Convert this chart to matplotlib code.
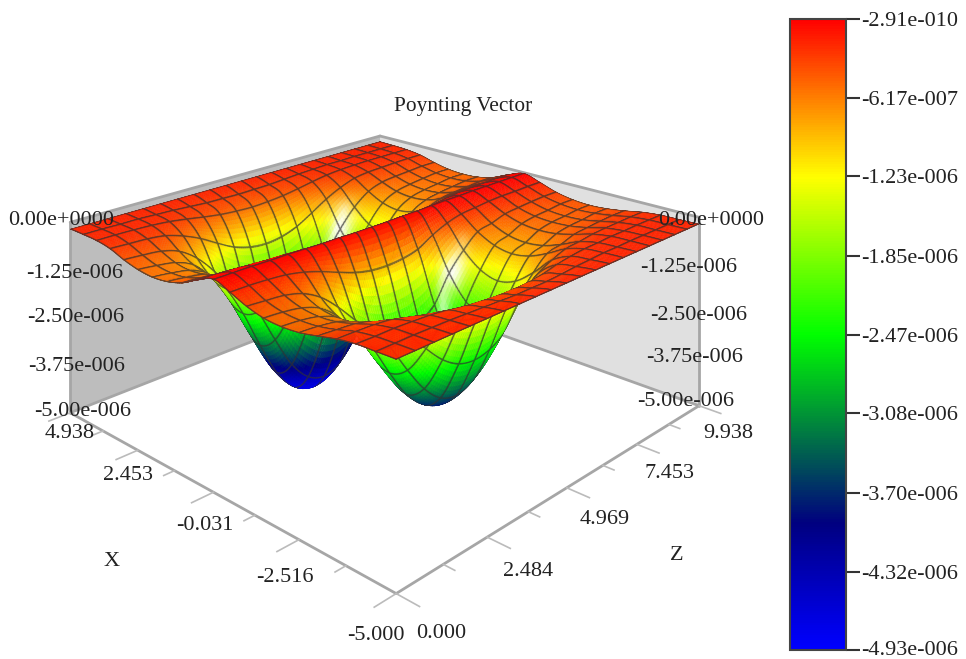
import numpy as np
import matplotlib
matplotlib.use('Agg')
import matplotlib.pyplot as plt
from matplotlib.colors import LinearSegmentedColormap, Normalize
from matplotlib.cm import ScalarMappable
from matplotlib.transforms import ScaledTranslation
from mpl_toolkits.mplot3d.art3d import Poly3DCollection
from mpl_toolkits.mplot3d import proj3d

# Values, in units of -1e-8
# one row per Z grid line (0 .. 9.938), columns run along X from -5 to 4.938
FILAS = [
    [18, 19, 20, 26, 36, 45, 48, 45, 34, 17, 2, 18, 40, 52, 56, 52, 42, 28, 21, 19, 18],
    [18, 19, 21, 27, 39, 48, 51, 48, 37, 17, 2, 19, 43, 57, 61, 57, 45, 30, 21, 19, 18],
    [18, 19, 21, 29, 43, 55, 59, 55, 41, 19, 2, 21, 48, 65, 70, 65, 50, 32, 22, 20, 18],
    [18, 20, 23, 34, 55, 72, 78, 72, 53, 23, 3, 27, 63, 86, 94, 86, 65, 38, 24, 20, 18],
    [18, 21, 26, 45, 80, 108, 118, 108, 78, 32, 3, 38, 96, 134, 146, 134, 98, 53, 28, 22, 18],
    [18, 23, 31, 62, 120, 165, 182, 165, 118, 46, 4, 56, 146, 206, 227, 206, 148, 74, 35, 24, 18],
    [18, 25, 38, 83, 168, 236, 260, 236, 166, 63, 5, 78, 208, 296, 327, 296, 210, 101, 43, 27, 18],
    [18, 27, 43, 102, 212, 299, 330, 299, 210, 79, 5, 97, 264, 378, 417, 378, 266, 126, 50, 30, 18],
    [18, 29, 47, 114, 240, 340, 375, 340, 238, 89, 6, 110, 299, 429, 474, 429, 301, 141, 54, 31, 18],
    [18, 29, 48, 118, 249, 353, 390, 353, 247, 92, 6, 114, 311, 446, 493, 446, 313, 146, 56, 32, 18],
    [18, 29, 47, 114, 240, 340, 375, 340, 238, 89, 6, 110, 299, 429, 474, 429, 301, 141, 54, 31, 18],
    [18, 27, 43, 102, 212, 299, 330, 299, 210, 79, 5, 97, 264, 378, 417, 378, 266, 126, 50, 30, 18],
    [18, 24, 34, 72, 145, 203, 224, 203, 143, 56, 5, 78, 208, 296, 327, 296, 210, 101, 43, 27, 18],
    [18, 22, 28, 52, 98, 135, 149, 135, 97, 38, 4, 56, 146, 206, 227, 206, 148, 74, 35, 24, 18],
    [18, 20, 24, 38, 64, 85, 93, 85, 62, 27, 3, 38, 96, 134, 146, 134, 98, 53, 28, 22, 18],
    [18, 20, 23, 34, 55, 72, 78, 72, 53, 23, 3, 27, 63, 86, 94, 86, 65, 38, 24, 20, 18],
    [18, 19, 21, 29, 43, 55, 59, 55, 41, 19, 2, 21, 48, 65, 70, 65, 50, 32, 22, 20, 18],
    [18, 19, 21, 27, 39, 48, 51, 48, 37, 17, 2, 19, 43, 57, 61, 57, 45, 30, 21, 19, 18],
    [18, 19, 20, 26, 36, 45, 48, 45, 34, 17, 2, 18, 40, 52, 56, 52, 42, 28, 21, 19, 18],
    [18, 19, 20, 25, 34, 41, 44, 41, 32, 16, 2, 17, 37, 48, 51, 48, 39, 27, 21, 19, 18],
    [18, 19, 20, 25, 34, 41, 44, 41, 32, 16, 2, 17, 37, 48, 51, 48, 39, 27, 21, 19, 18],
]

X_TICKS = [-5.0, -2.516, -0.031, 2.453, 4.938]
Z_TICKS = [0.0, 2.484, 4.969, 7.453, 9.938]
X_LABELS = ['-5.000', '-2.516', '-0.031', '2.453', '4.938']
Z_LABELS = ['0.000', '2.484', '4.969', '7.453', '9.938']
CB_TICKS = [-2.91e-10, -6.17e-7, -1.23e-6, -1.85e-6, -2.47e-6, -3.08e-6, -3.70e-6, -4.32e-6, -4.93e-6]
CB_LABELS = ['-2.91e-010', '-6.17e-007', '-1.23e-006', '-1.85e-006', '-2.47e-006',
             '-3.08e-006', '-3.70e-006', '-4.32e-006', '-4.93e-006']
Y_LABELS = ['0.00e+0000', '-1.25e-006', '-2.50e-006', '-3.75e-006', '-5.00e-006']

ANCHO, ALTO = 966, 659
plt.rcParams['font.family'] = ['Liberation Serif', 'DejaVu Serif']
plt.rcParams['font.size'] = 16
plt.rcParams['text.color'] = '#222222'

# colour scale, bottom of the bar first
cmap = LinearSegmentedColormap.from_list('barra', [
    (0.0, (0, 0, 1)),
    (0.2, (0, 0, 0.5)),
    (0.5, (0, 1, 0)),
    (0.75, (1, 1, 0)),
    (1.0, (1, 0, 0)),
])
norm = Normalize(vmin=CB_TICKS[-1], vmax=CB_TICKS[0], clip=True)

fig = plt.figure(figsize=(ANCHO / 100, ALTO / 100), dpi=100, facecolor='white')

# The original keeps vertical edges vertical: level camera, box far below the horizon.
# So the 3D box is much taller than the part that is drawn.
LADO = 1800
ax = fig.add_axes([-538 / ANCHO, -20.3 / ALTO, LADO / ANCHO, LADO / ALTO], projection='3d')
ax.set_axis_off()
ax.computed_zorder = False
ax.set_proj_type('persp', focal_length=0.147)
ax.set_box_aspect((445, 445, 1309), zoom=0.783)
ax.view_init(elev=0, azim=-136.4)
zmin, zmax = 0.0, 9.938
xmin, xmax = -5.0, 4.938
ymin, ymax = -5e-6, 0.0
ax.set_xlim(zmin, zmax, view_margin=0)
ax.set_ylim(xmin, xmax, view_margin=0)
ax.set_zlim(ymin, 29.54e-6, view_margin=0)

# walls
pared_izq = [[(zmin, xmax, ymax), (zmax, xmax, ymax), (zmax, xmax, ymin), (zmin, xmax, ymin)]]
pared_der = [[(zmax, xmax, ymax), (zmax, xmin, ymax), (zmax, xmin, ymin), (zmax, xmax, ymin)]]
ax.add_collection3d(Poly3DCollection(pared_izq, facecolors='#bdbdbd', edgecolors='none', zorder=1))
ax.add_collection3d(Poly3DCollection(pared_der, facecolors='#e0e0e0', edgecolors='none', zorder=1))

GRIS = '#a6a6a6'
bordes = [
    ((zmin, zmax), (xmax, xmax), (ymax, ymax)),
    ((zmax, zmax), (xmax, xmin), (ymax, ymax)),
    ((zmin, zmin), (xmax, xmax), (ymax, ymin)),
    ((zmax, zmax), (xmin, xmin), (ymax, ymin)),
    ((zmin, zmax), (xmax, xmax), (ymin, ymin)),
    ((zmax, zmax), (xmax, xmin), (ymin, ymin)),
    ((zmin, zmin), (xmax, xmin), (ymin, ymin)),
    ((zmin, zmax), (xmin, xmin), (ymin, ymin)),
]
for bx, by, bz in bordes:
    ax.plot(bx, by, bz, color=GRIS, lw=2.0, zorder=2, solid_capstyle='round')

# ticks on the floor
x_mayor = np.array(X_TICKS)
z_mayor = np.array(Z_TICKS)
x_menor = (x_mayor[:-1] + x_mayor[1:]) / 2
z_menor = (z_mayor[:-1] + z_mayor[1:]) / 2
LARGO = 0.55
for v in x_mayor:
    ax.plot((zmin, zmin - LARGO), (v, v), (ymin, ymin), color='#bbbbbb', lw=1.2, zorder=2)
for v in x_menor:
    ax.plot((zmin, zmin - LARGO / 2), (v, v), (ymin, ymin), color='#bbbbbb', lw=1.2, zorder=2)
for v in z_mayor:
    ax.plot((v, v), (xmin, xmin - LARGO), (ymin, ymin), color='#bbbbbb', lw=1.2, zorder=2)
for v in z_menor:
    ax.plot((v, v), (xmin, xmin - LARGO / 2), (ymin, ymin), color='#bbbbbb', lw=1.2, zorder=2)


def suavizar(tabla, u):
    """Catmull-Rom along the first axis, only to round the drawn facets between typed nodes."""
    n = tabla.shape[0]
    i = np.clip(np.floor(u).astype(int), 0, n - 2)
    t = (u - i)[:, None]
    p0 = tabla[np.clip(i - 1, 0, n - 1)]
    p1 = tabla[i]
    p2 = tabla[i + 1]
    p3 = tabla[np.clip(i + 2, 0, n - 1)]
    return 0.5 * (2 * p1 + (p2 - p0) * t + (2 * p0 - 5 * p1 + 4 * p2 - p3) * t ** 2
                  + (3 * p1 - p0 - 3 * p2 + p3) * t ** 3)


# surface: the typed mesh is subdivided only to shade it like the original
valores = -np.array(FILAS, dtype=float) * 1e-8
n_z, n_x = valores.shape
pasos = np.array([0.0, 0.02, 0.04, 0.07, 0.2, 0.33, 0.46, 0.59, 0.72, 0.85, 0.93, 0.96, 0.98])
u = np.concatenate([k + pasos for k in range(n_z - 1)] + [[n_z - 1.0]])

malla = suavizar(suavizar(valores, u).T, u).T
malla = np.minimum(malla, 0.0)

coord_z = zmin + u / (n_z - 1) * (zmax - zmin)
coord_x = xmin + u / (n_x - 1) * (xmax - xmin)
XX, YY = np.meshgrid(coord_z, coord_x, indexing='ij')

centro = (malla[:-1, :-1] + malla[1:, :-1] + malla[:-1, 1:] + malla[1:, 1:]) / 4
colores = cmap(norm(centro))

# specular highlight
alto_caja = 189.5 / 445
dz = np.gradient(malla / 5e-6 * alto_caja, coord_z / 9.938, axis=0)
dx = np.gradient(malla / 5e-6 * alto_caja, coord_x / 9.938, axis=1)
normal = np.dstack([-dz, -dx, np.ones_like(dz)])
normal /= np.linalg.norm(normal, axis=2, keepdims=True)
h = np.array([-0.50, -0.60, 0.50])
h = h / np.linalg.norm(h)
brillo = np.clip((normal * h).sum(axis=2), 0, 1) ** 70
brillo = brillo[:-1, :-1][..., None] * 0.95
colores[..., :3] = colores[..., :3] * (1 - brillo) + brillo

# grid lines as dark strips of about constant width on screen, so the surface hides them
px_unidad = LADO / 0.185
sx, sy, _ = proj3d.proj_transform(XX.ravel(), YY.ravel(), malla.ravel(), ax.get_proj())
sx = sx.reshape(XX.shape) * px_unidad
sy = sy.reshape(XX.shape) * px_unidad
dx_i, dy_i = np.gradient(sx, u, axis=0), np.gradient(sy, u, axis=0)
dx_j, dy_j = np.gradient(sx, u, axis=1), np.gradient(sy, u, axis=1)
area = np.abs(dx_i * dy_j - dy_i * dx_j)
perp_i = (area / (np.hypot(dx_j, dy_j) + 1e-9))[:-1, :-1]
perp_j = (area / (np.hypot(dx_i, dy_i) + 1e-9))[:-1, :-1]
mitad = (u[:-1] + u[1:]) / 2
dist = np.abs(mitad - np.round(mitad))
MEDIA_LINEA = 0.75
tinta_i = np.clip((MEDIA_LINEA - dist[:, None] * perp_i) / 0.6 + 0.5, 0, 1)
tinta_j = np.clip((MEDIA_LINEA - dist[None, :] * perp_j) / 0.6 + 0.5, 0, 1)
tinta = np.maximum(tinta_i, tinta_j)[..., None] * 0.72
oscuro = np.array([0.2, 0.2, 0.2])
colores[..., :3] = colores[..., :3] * (1 - tinta) + oscuro * tinta

ax.plot_surface(XX, YY, malla, facecolors=colores, rstride=1, cstride=1, shade=False,
                linewidth=0.25, antialiased=True, zorder=3)


def texto(x, y, s, **kw):
    fig.text(x / ANCHO, 1 - y / ALTO, s, ha='center', va='center', **kw)


texto(463, 106, 'Poynting Vector', fontsize=15.4)
texto(112, 562, 'X')
texto(677, 555, 'Z')

pos_x = [(376, 636), (285, 577), (205, 526), (128, 476), (70, 434)]
for (px, py), s in zip(pos_x, X_LABELS):
    texto(px, py, s)
pos_z = [(441, 634), (528, 572), (605, 520), (670, 474), (728, 433)]
for (px, py), s in zip(pos_z, Z_LABELS):
    texto(px, py, s)
pos_izq = [(61, 220), (75, 273), (76, 318), (77, 366), (83, 412)]
for (px, py), s in zip(pos_izq, Y_LABELS):
    texto(px, py, s)
pos_der = [(711, 220), (689, 268), (699, 315), (695, 358), (686, 402)]
for (px, py), s in zip(pos_der, Y_LABELS):
    texto(px, py, s)

# colour bar
cax = fig.add_axes([790 / ANCHO, 1 - 650 / ALTO, 56 / ANCHO, 631 / ALTO])
cb = fig.colorbar(ScalarMappable(norm=norm, cmap=cmap), cax=cax)
cb.set_ticks(CB_TICKS, labels=CB_LABELS)
cb.ax.tick_params(length=10, width=1.5, color='#333333', pad=1, labelsize=16, labelcolor='#222222')
cb.outline.set_linewidth(1.5)
cb.outline.set_edgecolor('#444444')
cb.minorticks_off()
# the lowest label sits close to the bottom edge of the figure
ultima = cb.ax.get_yticklabels()[-1]
ultima.set_transform(ultima.get_transform() + ScaledTranslation(0, 2 / 100, fig.dpi_scale_trans))

fig.savefig('out.png', dpi=100)
